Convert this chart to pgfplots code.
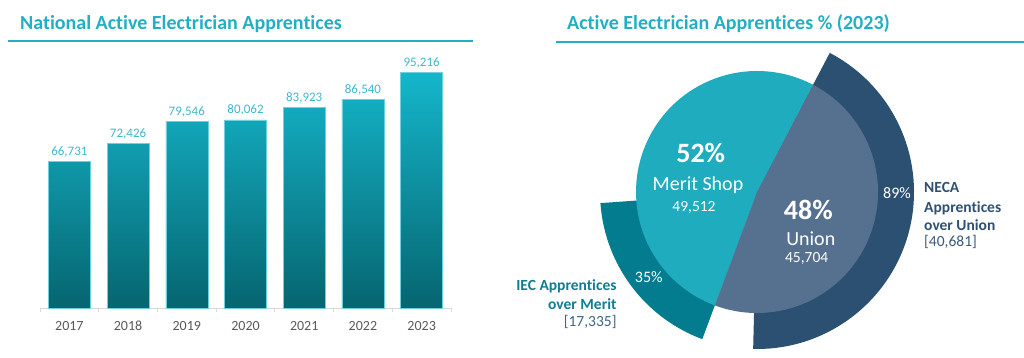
\documentclass[border=0pt]{standalone}
\usepackage{fontspec}
\setmainfont[Ligatures={NoCommon}]{Carlito}
\usepackage{pgfplots}
\usepackage{pgfplotstable}
\pgfplotsset{compat=1.18}

\definecolor{titleteal}{HTML}{22AFC4}
\definecolor{barTop}{HTML}{15B6CB}
\definecolor{barBot}{HTML}{066570}
\definecolor{barEdge}{HTML}{6FD0DE}
\definecolor{labelteal}{HTML}{3CB9CC}
\definecolor{tickgray}{HTML}{595959}
\definecolor{axisgray}{HTML}{D9D9D9}
\definecolor{merit}{HTML}{20ACBF}
\definecolor{union}{HTML}{56708F}
\definecolor{neca}{HTML}{2B5072}
\definecolor{iec}{HTML}{037C90}
\definecolor{necatext}{HTML}{2E5073}
\definecolor{necaval}{HTML}{3A5A7A}
\definecolor{iectext}{HTML}{0E7D91}
\definecolor{iecval}{HTML}{3E6585}

\pgfplotstableread{
x value
0 66731
1 72426
2 79546
3 80062
4 83923
5 86540
6 95216
}\bars

% pie values, in thousands
\def\vMerit{49.512}
\def\vUnion{45.704}
\def\vIEC{17.335}
\def\vNECA{40.681}

\begin{document}
\begin{tikzpicture}[x=1pt,y=1pt]
\path[use as bounding box] (0,0) rectangle (1024,358);

% titles
\node[anchor=base west, inner sep=0, text=titleteal, font=\fontsize{20}{20}\selectfont\bfseries] at (20,328) {National Active Electrician Apprentices};
\draw[titleteal, line width=2.5pt] (8,317) -- (473,317);
\node[anchor=base west, inner sep=0, text=titleteal, font=\fontsize{20}{20}\selectfont\bfseries] at (567,328) {Active Electrician Apprentices \% (2023)};
\draw[titleteal, line width=2.5pt] (556,316) -- (1024,316);

% bar chart
\begin{axis}[
  at={(40pt,50pt)}, anchor=south west,
  scale only axis, width=411pt, height=250.7pt,
  xmin=-0.5, xmax=6.5, ymin=20000, ymax=100000,
  axis y line=none, axis x line*=bottom,
  x axis line style={draw=axisgray, line width=0.8pt},
  xtick={0,...,6}, xticklabels={2017,2018,2019,2020,2021,2022,2023},
  major tick length=0pt,
  minor xtick={-0.5,0.5,1.5,2.5,3.5,4.5,5.5,6.5},
  minor tick length=4pt, tick align=outside,
  minor tick style={draw=axisgray, line width=0.8pt},
  xticklabel style={font=\fontsize{14}{14}\selectfont, text=tickgray, anchor=base, yshift=-22.5pt, inner sep=0pt},
  ybar, bar width=42pt, clip=false,
  nodes near coords={\pgfmathprintnumber[fixed,precision=0,1000 sep={,},assume math mode=true]{\pgfplotspointmeta}},
  every node near coord/.append style={font=\fontsize{13}{13}\selectfont, text=labelteal, anchor=base, inner sep=0pt, yshift=6pt},
]
\addplot[top color=barTop, bottom color=barBot, draw=barEdge, line width=0.5pt] table[x=x, y=value] {\bars};
\end{axis}

% pie chart
\pgfmathsetmacro{\total}{\vMerit+\vUnion}
\pgfmathsetmacro{\topA}{62.4}
\pgfmathsetmacro{\uAng}{360*(\vUnion/\total)}
\pgfmathsetmacro{\mAng}{360*(\vMerit/\total)}
\pgfmathsetmacro{\uStart}{\topA-\uAng}
\pgfmathsetmacro{\mEnd}{\topA+\mAng}
\pgfmathsetmacro{\nStart}{\topA-\uAng*(\vNECA/\vUnion)}
\pgfmathsetmacro{\iStart}{\mEnd-\mAng*(\vIEC/\vMerit)}
\begin{axis}[at={(0pt,0pt)}, anchor=south west, x=1pt, y=1pt,
  xmin=-757, xmax=267, ymin=-166, ymax=192, hide axis, clip=false]
\fill[neca] (axis cs:0,0) -- (axis cs:{157*cos(\nStart)},{157*sin(\nStart)}) arc[start angle=\nStart, end angle=\topA, radius=157pt] -- cycle;
\fill[iec] (axis cs:0,0) -- (axis cs:{157*cos(\iStart)},{157*sin(\iStart)}) arc[start angle=\iStart, end angle=\mEnd, radius=157pt] -- cycle;
\fill[merit] (axis cs:0,0) -- (axis cs:{121*cos(\topA)},{121*sin(\topA)}) arc[start angle=\topA, end angle=\mEnd, radius=121pt] -- cycle;
\fill[union] (axis cs:0,0) -- (axis cs:{121*cos(\uStart)},{121*sin(\uStart)}) arc[start angle=\uStart, end angle=\topA, radius=121pt] -- cycle;
\end{axis}

% pie labels
\begin{scope}[every node/.style={inner sep=0, anchor=base, text=white}]
\node[font=\fontsize{28}{28}\selectfont\bfseries] at (700.7,195.3) {52\%};
\node[font=\fontsize{20}{20}\selectfont] at (698,167.3) {Merit Shop};
\node[font=\fontsize{15.5}{15.5}\selectfont] at (694,146) {49,512};
\node[font=\fontsize{28}{28}\selectfont\bfseries] at (808.3,138) {48\%};
\node[font=\fontsize{20}{20}\selectfont] at (810.8,112.3) {Union};
\node[font=\fontsize{15.5}{15.5}\selectfont] at (806.7,95.3) {45,704};
\node[font=\fontsize{16}{16}\selectfont] at (897,159) {89\%};
\node[font=\fontsize{16}{16}\selectfont] at (648.8,75.3) {35\%};
\end{scope}
\begin{scope}[every node/.style={inner sep=0, anchor=base west, font=\fontsize{15.5}{15.5}\selectfont}]
\node[text=necatext, font=\fontsize{15.5}{15.5}\selectfont\bfseries] at (924,165) {NECA};
\node[text=necatext, font=\fontsize{15.5}{15.5}\selectfont\bfseries] at (924,145.7) {Apprentices};
\node[text=necatext, font=\fontsize{15.5}{15.5}\selectfont\bfseries] at (924,127.3) {over Union};
\node[text=necaval] at (924,111) {[40,681]};
\end{scope}
\begin{scope}[every node/.style={inner sep=0, anchor=base east, font=\fontsize{15.5}{15.5}\selectfont}]
\node[text=iectext, font=\fontsize{15.5}{15.5}\selectfont\bfseries] at (616.7,67.3) {IEC Apprentices};
\node[text=iectext, font=\fontsize{15.5}{15.5}\selectfont\bfseries] at (616.7,48.7) {over Merit};
\node[text=iecval] at (616.7,31) {[17,335]};
\end{scope}
\end{tikzpicture}
\end{document}
